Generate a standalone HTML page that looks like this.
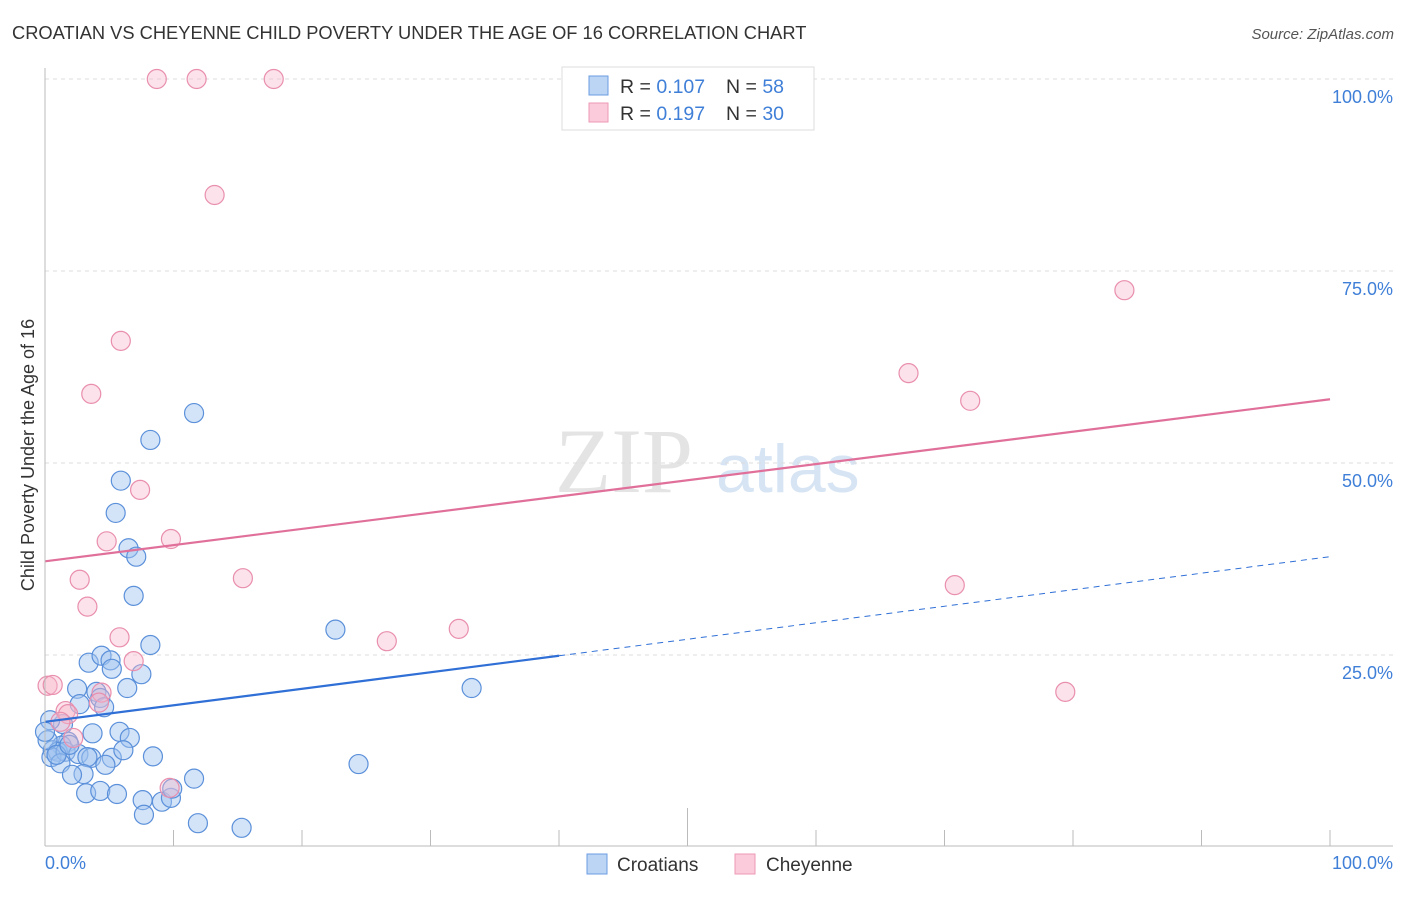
<!DOCTYPE html><html><head><meta charset="utf-8"><style>
body{margin:0;background:#fff;font-family:"Liberation Sans",sans-serif}
</style></head><body>
<svg id="c" width="1406" height="892" xmlns="http://www.w3.org/2000/svg">
<text x="12" y="39" font-size="18.3" fill="#333">CROATIAN VS CHEYENNE CHILD POVERTY UNDER THE AGE OF 16 CORRELATION CHART</text>
<text x="1394" y="39" font-size="15" fill="#555" font-style="italic" text-anchor="end">Source: ZipAtlas.com</text>
<text x="555" y="492" font-size="92" fill="#e4e4e4" font-family="Liberation Serif,serif">ZIP</text>
<text x="716" y="492" font-size="68" fill="#d6e4f4">atlas</text>
<text transform="translate(34,455) rotate(-90)" font-size="18" fill="#333" text-anchor="middle">Child Poverty Under the Age of 16</text>
<g id="grid"></g><g id="pts"></g><g id="lines"></g>
<line x1="45" y1="68" x2="45" y2="846" stroke="#bbb"/>
<line x1="45" y1="846" x2="1393" y2="846" stroke="#bbb"/>
<text x="45" y="869" font-size="18" fill="#3f7fd8">0.0%</text>
<text x="1393" y="869" font-size="18" fill="#3f7fd8" text-anchor="end">100.0%</text>
<g>
<rect x="562" y="67" width="252" height="63" fill="#fff" stroke="#ddd"/>
<rect x="589" y="76" width="19" height="19" fill="#bcd5f5" stroke="#6a9be0"/>
<rect x="589" y="103" width="19" height="19" fill="#fbcadb" stroke="#ec9ab6"/>
<text x="620" y="93" font-size="19.5" fill="#333">R = <tspan fill="#3f7fd8">0.107</tspan><tspan x="726">N = </tspan><tspan fill="#3f7fd8">58</tspan></text>
<text x="620" y="120" font-size="19.5" fill="#333">R = <tspan fill="#3f7fd8">0.197</tspan><tspan x="726">N = </tspan><tspan fill="#3f7fd8">30</tspan></text>
</g>
<g>
<rect x="587" y="854" width="20" height="20" fill="#bcd5f5" stroke="#6a9be0"/>
<text x="617" y="871" font-size="19" fill="#333">Croatians</text>
<rect x="735" y="854" width="20" height="20" fill="#fbcadb" stroke="#ec9ab6"/>
<text x="766" y="871" font-size="19" fill="#333">Cheyenne</text>
</g>
</svg>
<script>
const blueX=[11.6,8.2,5.9,5.5,6.5,7.1,6.9,8.2,22.6,33.2,24.4,3.4,4.4,5.1,5.2,7.5,6.4,2.5,4.0,4.3,2.7,4.6,1.4,3.7,5.8,6.6,1.8,1.3,0.6,1.0,0.5,1.6,2.6,3.6,3.3,5.2,6.1,8.4,1.2,4.7,3.0,2.1,11.6,3.2,4.3,5.6,7.6,9.1,9.8,9.9,7.7,11.9,15.3,0.2,0.4,0.9,1.9,0.0];
const blueY=[56.5,53.0,47.7,43.5,38.9,37.8,32.7,26.3,28.3,20.7,10.8,24.0,24.9,24.3,23.2,22.5,20.7,20.6,20.2,19.4,18.6,18.2,16.0,14.8,15.0,14.2,13.7,13.2,12.6,12.4,11.7,12.4,12.1,11.6,11.7,11.6,12.6,11.8,10.9,10.7,9.5,9.4,8.9,7.0,7.3,6.9,6.1,5.9,6.4,7.6,4.2,3.1,2.5,13.9,16.5,12.0,13.3,15.0];
const pinkX=[8.7,11.8,17.8,13.2,5.9,3.6,7.4,4.8,9.8,2.7,3.3,5.8,6.9,15.4,26.6,32.2,84.0,67.2,72.0,70.8,79.4,0.2,0.6,1.6,1.8,4.4,4.2,2.2,9.7,1.2];
const pinkY=[100,100,100,84.9,65.9,59.0,46.5,39.8,40.1,34.8,31.3,27.3,24.2,35.0,26.8,28.4,72.5,61.7,58.1,34.1,20.2,21.0,21.1,17.7,17.3,20.1,18.8,14.2,7.7,16.3];
const yTicks=[25,50,75,100];
const yTickLabels=["25.0%","50.0%","75.0%","100.0%"];
const xTicks=[0,10,20,30,40,50,60,70,80,90,100];
const blueLine=[16.3,37.8];
const pinkLine=[37.2,58.3];
const blueSolidEnd=40;
const NS="http://www.w3.org/2000/svg";
const sx=v=>45+v*12.85, sy=v=>847-v*7.68;
function mk(tag,a,parent){const e=document.createElementNS(NS,tag);for(const k in a)e.setAttribute(k,a[k]);document.getElementById(parent).appendChild(e);return e;}
yTicks.forEach((t,i)=>{
 const l=mk('line',{x1:45,x2:1393,y1:sy(t),y2:sy(t),stroke:'#ddd','stroke-dasharray':'4,4'},'grid');
 
 
 const tx=mk('text',{x:1393,y:sy(t)+24,'font-size':18,fill:'#3f7fd8','text-anchor':'end'},'grid');
 tx.textContent=yTickLabels[i];
 
 
});
xTicks.forEach(t=>{
 const l=mk('line',{x1:sx(t),x2:sx(t),y1:t==50?808:830,y2:846,stroke:'#bbb'},'grid');
 
 
});
blueX.forEach((x,i)=>{
 const c=mk('circle',{cx:sx(x),cy:sy(blueY[i]),r:9.5,fill:'rgba(160,196,240,0.45)',stroke:'#5b90da','stroke-width':1.2},'pts');
 
 
});
pinkX.forEach((x,i)=>{
 const c=mk('circle',{cx:sx(x),cy:sy(pinkY[i]),r:9.5,fill:'rgba(248,182,202,0.4)',stroke:'#e98fae','stroke-width':1.2},'pts');
 
 
});
const by=x=>blueLine[0]+(blueLine[1]-blueLine[0])*x/100;
let l1=mk('line',{x1:sx(0),y1:sy(by(0)),x2:sx(blueSolidEnd),y2:sy(by(blueSolidEnd)),stroke:'#2f6fd6','stroke-width':2.2},'lines');


let l2=mk('line',{x1:sx(blueSolidEnd),y1:sy(by(blueSolidEnd)),x2:sx(100),y2:sy(by(100)),stroke:'#2f6fd6','stroke-width':1,'stroke-dasharray':'6,5'},'lines');


let l3=mk('line',{x1:sx(0),y1:sy(pinkLine[0]),x2:sx(100),y2:sy(pinkLine[1]),stroke:'#e0709a','stroke-width':2.2},'lines');


</script>
</body></html>
